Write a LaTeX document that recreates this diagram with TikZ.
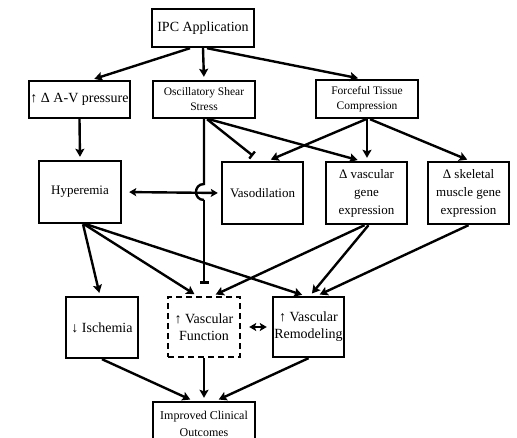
\documentclass[tikz,border=0pt]{standalone}
\usepackage{fontspec}
\setmainfont{Liberation Serif}
\usetikzlibrary{arrows.meta,calc}
\tikzset{
  box/.style={draw, line width=2.4pt, align=center, inner sep=1pt, fill=white},
  arr/.style={line width=2.4pt, -{Stealth[length=8pt,width=9pt,inset=1.5pt]}, shorten >=3pt},
  darr/.style={line width=2.4pt, {Stealth[length=7pt,width=8pt,inset=1.5pt]}-{Stealth[length=7pt,width=8pt,inset=1.5pt]}},
  barr/.style={line width=2.4pt, -{Bar[width=9pt,line width=2.4pt]}},
  fA/.style={font=\fontsize{14}{17}\selectfont},
  fB/.style={font=\fontsize{11.5}{15}\selectfont},
  fC/.style={font=\fontsize{13}{18}\selectfont},
}
\begin{document}
\begin{tikzpicture}[x=1pt,y=-1pt]
\useasboundingbox (0,0) rectangle (517,438);
\clip (0,0) rectangle (517,438);
\fill[white] (0,0) rectangle (517,438);

\node[box,fA,minimum width=102pt,minimum height=38pt] (ipc) at (203,28) {IPC Application};
\node[box,fA,minimum width=101pt,minimum height=37pt] (av) at (79.5,99.5) {↑ Δ A-V pressure};
\node[box,fB,minimum width=102pt,minimum height=37pt] (osc) at (204,99.5) {Oscillatory Shear\\Stress};
\node[box,fB,minimum width=102pt,minimum height=38pt] (ftc) at (367,99) {Forceful Tissue\\Compression};

\node[box,fC,minimum width=82pt,minimum height=62pt] (hyp) at (80,192) {Hyperemia};
\node[box,fC,minimum width=81pt,minimum height=62pt] (vaso) at (262.5,193) {Vasodilation};
\node[box,fC,minimum width=81pt,minimum height=62pt] (vgene) at (366.5,193) {Δ vascular\\gene\\expression};
\node[box,fC,minimum width=81pt,minimum height=62pt] (sgene) at (468.5,193) {Δ skeletal\\muscle gene\\expression};

\node[box,fA,minimum width=72pt,minimum height=61pt] (isch) at (102,327.5) {↓ Ischemia};
\node[box,fA,dashed,dash pattern=on 6pt off 4pt,minimum width=72pt,minimum height=60pt] (vf) at (204,327) {↑ Vascular\\Function};
\node[box,fA,minimum width=71pt,minimum height=60pt] (vr) at (308.5,327) {↑ Vascular\\Remodeling};

\node[box,font=\fontsize{12}{17.5}\selectfont,minimum width=102pt,minimum height=44pt] (ico) at (204,424) {Improved Clinical\\Outcomes};

% IPC outgoing
\draw[arr] ([xshift=-13pt]ipc.south) -- ([xshift=12pt]av.north);
\draw[arr] (ipc.south) -- (osc.north);
\draw[arr] ([xshift=4pt]ipc.south) -- ([xshift=-6pt]ftc.north);

\draw[arr] (av.south) -- (hyp.north);

% oscillatory shear stress
\coordinate (cross) at (osc.south |- hyp.east);
\draw[line width=2.4pt] (osc.south) -- ($(cross)+(0,-8)$)
  .. controls ($(cross)+(-10.7,-8)$) and ($(cross)+(-10.7,8)$) .. ($(cross)+(0,8)$);
\draw[barr] ($(cross)+(0,8)$) -- ($(vf.north)+(0,-12)$);
\draw[barr] ([xshift=3pt]osc.south) -- ($(vaso.north)+(-9.5,-5)$);
\draw[arr] ([xshift=5pt]osc.south) -- ([xshift=-6pt]vgene.north);

% forceful tissue compression
\draw[arr] ([xshift=-1pt]ftc.south) -- ([xshift=5.5pt]vaso.north);
\draw[arr] (ftc.south) -- (ftc.south |- vgene.north);
\draw[arr] ([xshift=3pt]ftc.south) -- ([xshift=1.5pt]sgene.north);

% hyperemia <-> vasodilation
\draw[darr, shorten <=7pt, shorten >=3pt] (hyp.east) -- (vaso.west);

% hyperemia outgoing
\draw[arr] ([xshift=3pt]hyp.south) -- ([xshift=-2pt]isch.north);
\draw[arr] ([xshift=4pt]hyp.south) -- ([xshift=-7pt]vf.north);
\draw[arr] ([xshift=6pt]hyp.south) -- ([xshift=-3.5pt]vr.north);

% gene expression outgoing
\draw[arr] ([xshift=-2pt]vgene.south) -- ([xshift=9pt]vf.north);
\draw[arr] ([xshift=2pt]vgene.south) -- ([xshift=1.5pt]vr.north);
\draw[arr] (sgene.south) -- ([xshift=8.5pt]vr.north);

% vf <-> vr
\draw[darr, shorten <=8pt, shorten >=5pt] (vf.east) -- (vr.west);

% to outcomes
\draw[arr] (isch.south) -- ([xshift=-11pt]ico.north);
\draw[arr] (vf.south) -- (ico.north);
\draw[arr] (vr.south) -- ([xshift=12pt]ico.north);
\end{tikzpicture}
\end{document}
